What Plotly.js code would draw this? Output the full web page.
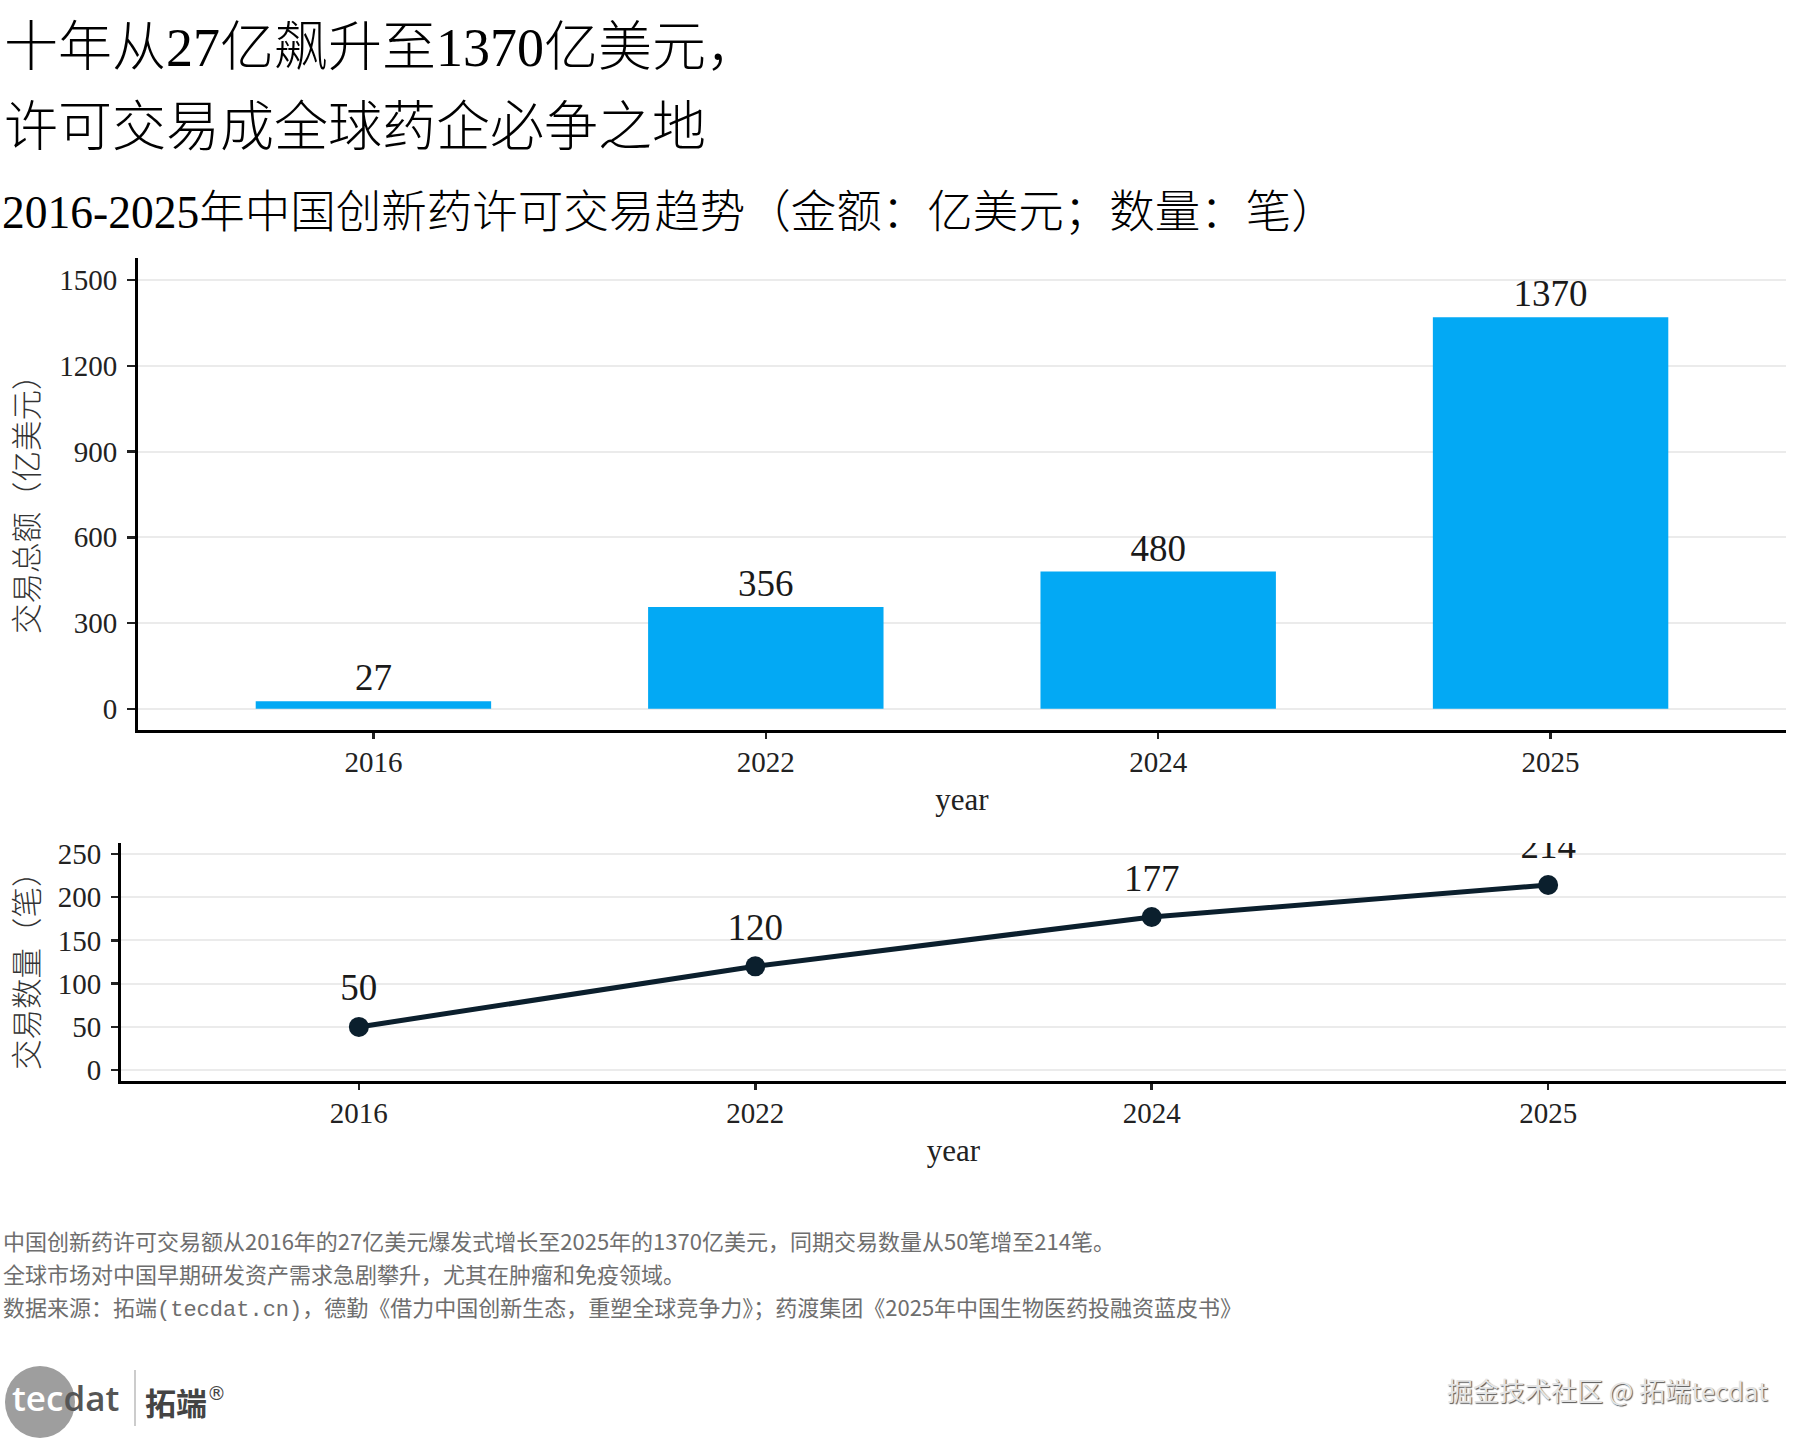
<!DOCTYPE html>
<html>
<head>
<meta charset="utf-8">
<script src="https://cdn.plot.ly/plotly-3.0.1.min.js"></script>
<style>html,body{margin:0;padding:0;background:#fff;}#chart{width:1800px;height:1440px;}</style>
</head>
<body>
<div id="chart"></div>
<script>
// ---- data ----
const years = ['2016', '2022', '2024', '2025'];
const amounts = [27, 356, 480, 1370];
const counts = [50, 120, 177, 214];
const amountTicks = [0, 300, 600, 900, 1200, 1500];
const countTicks = [0, 50, 100, 150, 200, 250];

const titleLine1 = '十年从27亿飙升至1370亿美元，';
const titleLine2 = '许可交易成全球药企必争之地';
const subtitle = '2016-2025年中国创新药许可交易趋势（金额：亿美元；数量：笔）';
const yTitle1 = '交易总额（亿美元）';
const yTitle2 = '交易数量（笔）';
const xTitle = 'year';
const notes = [
  '中国创新药许可交易额从2016年的27亿美元爆发式增长至2025年的1370亿美元，同期交易数量从50笔增至214笔。',
  '全球市场对中国早期研发资产需求急剧攀升，尤其在肿瘤和免疫领域。',
  '数据来源：拓端(tecdat.cn)，德勤《借力中国创新生态，重塑全球竞争力》；药渡集团《2025年中国生物医药投融资蓝皮书》'
];
const watermark = '掘金技术社区 @ 拓端tecdat';

// ---- styling ----
const W = 1800, H = 1440;
const px = v => v / W;
const py = v => 1 - v / H;
const SERIF = '"Liberation Serif", "Noto Sans CJK SC", serif';
const SANS = '"Noto Sans CJK SC", "Noto Sans", sans-serif';
const BLUE = '#03A9F4';
const NAVY = '#0b1f2d';
const labelFont = {family: SERIF, size: 37, color: '#1a1a1a'};

const traces = [
  {
    type: 'bar', x: years, y: amounts, xaxis: 'x', yaxis: 'y',
    width: 0.6, marker: {color: BLUE}, hoverinfo: 'skip'
  },
  {
    type: 'scatter', mode: 'markers+text', x: years, y: amounts, xaxis: 'x', yaxis: 'y',
    marker: {size: 1, color: 'rgba(0,0,0,0)'},
    text: amounts.map(String), textposition: 'top center',
    textfont: labelFont, cliponaxis: false, hoverinfo: 'skip'
  },
  {
    type: 'scatter', mode: 'lines+markers', x: years, y: counts, xaxis: 'x2', yaxis: 'y2',
    line: {color: NAVY, width: 5}, marker: {color: NAVY, size: 20},
    hoverinfo: 'skip', cliponaxis: false
  },
  {
    type: 'scatter', mode: 'markers+text', x: years, y: counts, xaxis: 'x2', yaxis: 'y2',
    marker: {size: 26, color: 'rgba(0,0,0,0)'},
    text: counts.map(String), textposition: 'top center',
    textfont: labelFont, cliponaxis: true, hoverinfo: 'skip'
  }
];

const tickFont = {family: SERIF, size: 29, color: '#222'};
const common = {
  showline: true, linecolor: '#000', linewidth: 3,
  ticks: 'outside', tickcolor: '#222', tickwidth: 2.5,
  tickfont: tickFont, fixedrange: true
};

const annotations = [
  {text: titleLine1, x: px(2), y: py(48), xanchor: 'left', yanchor: 'middle', font: {family: SERIF, size: 54, weight: 300, color: '#000'}},
  {text: titleLine2, x: px(2), y: py(128), xanchor: 'left', yanchor: 'middle', font: {family: SERIF, size: 54, weight: 300, color: '#000'}},
  {text: subtitle, x: px(0), y: py(212), xanchor: 'left', yanchor: 'middle', font: {family: SERIF, size: 45.5, weight: 300, color: '#000'}},
  {text: yTitle1, x: px(25), y: py(497), textangle: -90, xanchor: 'center', yanchor: 'middle', font: {family: SANS, size: 30.5, weight: 300, color: '#333'}},
  {text: yTitle2, x: px(25), y: py(963), textangle: -90, xanchor: 'center', yanchor: 'middle', font: {family: SANS, size: 30.5, weight: 300, color: '#333'}},
  {text: '<span style="color:#ffffff">tec</span><span style="color:#555555">dat</span>', x: px(10), y: py(1397), xanchor: 'left', yanchor: 'middle', font: {family: '"Open Sans", sans-serif', size: 35, weight: 600}},
  {text: '拓端', x: px(143), y: py(1401), xanchor: 'left', yanchor: 'middle', font: {family: SANS, size: 31, weight: 700, color: '#444'}},
  {text: '®', x: px(216), y: py(1393), xanchor: 'center', yanchor: 'middle', font: {family: '"DejaVu Sans", sans-serif', size: 19, color: '#444'}},
  {text: watermark, x: px(1770), y: py(1389), xanchor: 'right', yanchor: 'middle', font: {family: SANS, size: 26, color: '#e4e4e4', shadow: '1px 1px 1px #555'}}
];
notes.forEach((t, i) => {
  const txt = t.replace('(tecdat.cn)', '<span style="font-family:\'Liberation Mono\'">(tecdat.cn)</span>');
  annotations.push({text: txt, x: px(1), y: py(1240 + i * 33), xanchor: 'left', yanchor: 'middle', font: {family: SANS, size: 22, color: '#6e6e6e'}});
});
annotations.forEach(a => { a.xref = 'paper'; a.yref = 'paper'; a.showarrow = false; });

const layout = {
  width: W, height: H,
  margin: {l: 0, r: 0, t: 0, b: 0},
  paper_bgcolor: '#fff', plot_bgcolor: '#fff',
  showlegend: false,
  xaxis: Object.assign({}, common, {
    domain: [px(138), px(1786)], anchor: 'y', type: 'category', range: [-0.6, 3.6],
    ticklen: 6, showgrid: false, ticklabelstandoff: -2,
    title: {text: xTitle, font: {family: SERIF, size: 31, color: '#222'}, standoff: 12}
  }),
  yaxis: Object.assign({}, common, {
    domain: [py(730), py(258)], anchor: 'x', range: [-74, 1577],
    tickvals: amountTicks, ticklen: 8, ticklabelstandoff: 4,
    showgrid: true, gridcolor: '#ebebeb', gridwidth: 2, zeroline: false
  }),
  xaxis2: Object.assign({}, common, {
    domain: [px(121), px(1786)], anchor: 'y2', type: 'category', range: [-0.6, 3.6],
    ticklen: 6, showgrid: false, ticklabelstandoff: -2,
    title: {text: xTitle, font: {family: SERIF, size: 31, color: '#222'}, standoff: 12}
  }),
  yaxis2: Object.assign({}, common, {
    domain: [py(1081), py(843)], anchor: 'x2', range: [-12.5, 262.5],
    tickvals: countTicks, ticklen: 7, ticklabelstandoff: 4,
    showgrid: true, gridcolor: '#ebebeb', gridwidth: 2, zeroline: false
  }),
  shapes: [
    {type: 'circle', xref: 'paper', yref: 'paper', x0: px(5), x1: px(75), y0: py(1438), y1: py(1366), fillcolor: '#9e9e9e', line: {width: 0}, layer: 'below'},
    {type: 'line', xref: 'paper', yref: 'paper', x0: px(135), x1: px(135), y0: py(1370), y1: py(1426), line: {color: '#cccccc', width: 2}}
  ],
  annotations: annotations
};

Plotly.newPlot('chart', traces, layout, {displayModeBar: false, staticPlot: true});
</script>
</body>
</html>
